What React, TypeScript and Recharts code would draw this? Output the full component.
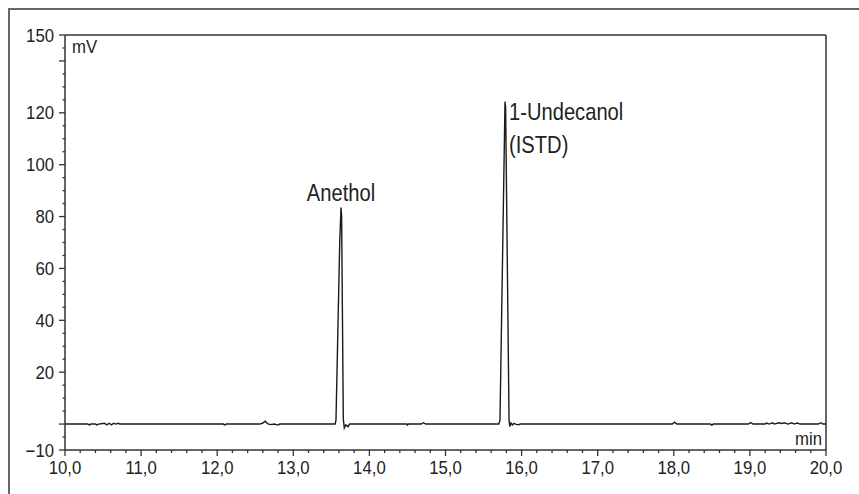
import React from 'react';
import { LineChart, Line, XAxis, YAxis, ReferenceLine, ReferenceDot } from 'recharts';

// Retention time (min)
const times = [
  10.0, 10.3, 10.32, 10.34, 10.4, 10.42, 10.44, 10.52, 10.55, 10.58, 10.61, 10.64, 10.67, 10.7, 10.72,
  12.08, 12.1, 12.12, 12.56, 12.6, 12.63, 12.66, 12.7, 12.75, 12.8, 12.82,
  13.55, 13.561, 13.61, 13.627, 13.635, 13.657, 13.67, 13.69, 13.72, 13.74,
  14.49, 14.5, 14.51, 14.68, 14.71, 14.74,
  15.7, 15.716, 15.782, 15.79, 15.835, 15.845, 15.86, 15.88, 15.9, 15.92, 15.96, 15.98,
  17.98, 18.01, 18.04, 18.48, 18.5, 18.52, 18.98, 19.01, 19.04,
  19.2, 19.22, 19.25, 19.3, 19.32, 19.38, 19.42, 19.45, 19.5, 19.55, 19.58, 19.62, 19.66,
  19.9, 19.93, 19.96, 20.0,
];
// Detector signal (mV)
const signal = [
  0, 0, -0.3, 0, 0, -0.3, 0, 0.3, -0.3, 0.3, -0.3, 0.3, 0, 0.3, 0,
  0, -0.3, 0, 0, 0.4, 1.1, 0.2, -0.2, 0, -0.4, 0,
  0, 1.5, 70, 83.5, 80, 2, -1.5, -0.3, -1, 0,
  0, -0.4, 0, 0, 0.5, 0,
  0, 1.5, 124.3, 122, 1.5, -1, 0.4, -0.3, 0.3, 0, -0.3, 0,
  0, 0.7, 0, 0, -0.4, 0, 0, 0.6, 0,
  0, 0.4, 0, 0.5, 0, 0.5, 0.2, 0.5, 0, 0.5, 0, 0.4, 0,
  0, 0.5, 0, 0,
];

const yLabelTicks = [-10, 20, 40, 60, 80, 100, 120, 150];
const yMajorTicks = [-10, 0, 20, 40, 60, 80, 100, 120, 140, 150];
const xLabelTicks = [10, 11, 12, 13, 14, 15, 16, 17, 18, 19, 20];

const peakNames = ['Anethol', '1-Undecanol'];
const peakSub = ['', '(ISTD)'];
const peakTimes = [13.627, 15.782];
const peakHeights = [83.5, 124.3];

const data = times.map((t, i) => ({ t, mv: signal[i] }));

const yTicks: number[] = [];
for (let v = -10; v <= 150; v += 5) yTicks.push(v);
const xTicks: number[] = [];
for (let i = 0; i <= 50; i++) xTicks.push(Math.round((10 + i * 0.2) * 10) / 10);

const FONT = "'Liberation Sans', Arial, Helvetica, sans-serif";
const INK = '#222';

const CText = (p: any) => {
  const { x, y, size, sx, anchor, children } = p;
  return (
    <text
      transform={`translate(${x} ${y}) scale(${sx} 1)`}
      x={0}
      y={0}
      textAnchor={anchor || 'start'}
      fontSize={size}
      fontFamily={FONT}
      fill={INK}
    >
      {children}
    </text>
  );
};

const XTick = (props: any) => {
  const { x, y, payload } = props;
  const v = payload.value;
  const major = xLabelTicks.some((m) => Math.abs(m - v) < 1e-6);
  return (
    <g>
      <line x1={x} x2={x} y1={y} y2={y + (major ? 6 : 3)} stroke="#333" strokeWidth={1.3} />
      {major && (
        <CText x={x} y={y + 24} size={18} sx={0.93} anchor="middle">
          {v.toFixed(1).replace('.', ',')}
        </CText>
      )}
    </g>
  );
};

const YTick = (props: any) => {
  const { x, y, payload } = props;
  const v = payload.value;
  const major = yMajorTicks.includes(v);
  const labelled = yLabelTicks.includes(v);
  return (
    <g>
      <line x1={x - (major ? 6 : 2.5)} x2={x} y1={y} y2={y} stroke="#333" strokeWidth={1.3} />
      {labelled && (
        <CText x={x - 11} y={y + 6.5} size={18} sx={0.93} anchor="end">
          {v < 0 ? '\u2212' + Math.abs(v) : String(v)}
        </CText>
      )}
    </g>
  );
};

const PeakLabel = (i: number) => (props: any) => {
  const vb = props.viewBox || {};
  const cx = vb.x + (vb.width || 0) / 2;
  const cy = vb.y + (vb.height || 0) / 2;
  if (!peakSub[i]) {
    return (
      <CText x={cx} y={cy - 6} size={24} sx={0.84} anchor="middle">
        {peakNames[i]}
      </CText>
    );
  }
  return (
    <g>
      <CText x={cx + 4} y={cy + 18} size={24} sx={0.84}>
        {peakNames[i]}
      </CText>
      <CText x={cx + 4} y={cy + 51} size={24} sx={0.84}>
        {peakSub[i]}
      </CText>
    </g>
  );
};

const UnitY = (props: any) => {
  const vb = props.viewBox || {};
  return (
    <CText x={vb.x + 7} y={vb.y + 18} size={18} sx={0.93}>
      mV
    </CText>
  );
};
const UnitX = (props: any) => {
  const vb = props.viewBox || {};
  return (
    <CText x={vb.x - 4} y={vb.y - 5} size={18} sx={0.93} anchor="end">
      min
    </CText>
  );
};

export default function App() {
  return (
    <div style={{ position: 'absolute', left: 0, top: 0, width: 859, height: 494, overflow: 'hidden', background: '#fff' }}>
      <div
        style={{
          position: 'absolute',
          left: 8,
          top: 8,
          width: 851,
          height: 486,
          borderTop: '2px solid #666',
          borderLeft: '2px solid #666',
          boxSizing: 'border-box',
        }}
      />
      <div style={{ position: 'absolute', left: 0, top: 0 }}>
        <LineChart width={859} height={494} data={data} margin={{ top: 35, right: 33, bottom: 0, left: 0 }}>
          <XAxis
            dataKey="t"
            type="number"
            domain={[10, 20]}
            ticks={xTicks}
            interval={0}
            tick={<XTick />}
            tickLine={false}
            tickSize={0}
            tickMargin={0}
            height={44}
            axisLine={{ stroke: '#333', strokeWidth: 1.5 }}
            allowDataOverflow
          />
          <YAxis
            type="number"
            domain={[-10, 150]}
            ticks={yTicks}
            interval={0}
            tick={<YTick />}
            tickLine={false}
            tickSize={0}
            tickMargin={0}
            width={65}
            axisLine={{ stroke: '#333', strokeWidth: 1.5 }}
            allowDataOverflow
          />
          <ReferenceLine y={150} stroke="#333" strokeWidth={1.5} />
          <ReferenceLine x={20} stroke="#333" strokeWidth={1.5} />
          <Line
            type="linear"
            dataKey="mv"
            stroke="#1a1a1a"
            strokeWidth={1.4}
            dot={false}
            isAnimationActive={false}
          />
          {peakNames.map((n, i) => (
            <ReferenceDot
              key={n}
              x={peakTimes[i]}
              y={peakHeights[i]}
              r={0}
              fill="none"
              stroke="none"
              label={{ content: PeakLabel(i) }}
            />
          ))}
          <ReferenceDot x={10} y={150} r={0} fill="none" stroke="none" label={{ content: UnitY }} />
          <ReferenceDot x={20} y={-10} r={0} fill="none" stroke="none" label={{ content: UnitX }} />
        </LineChart>
      </div>
    </div>
  );
}
